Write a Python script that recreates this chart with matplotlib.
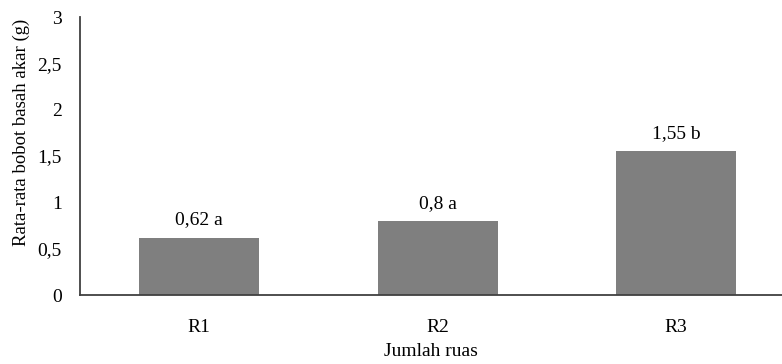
import matplotlib
matplotlib.use("Agg")
import matplotlib.pyplot as plt

categories = ["R1", "R2", "R3"]
values = [0.62, 0.80, 1.55]
labels = ["0,62 a", "0,8 a", "1,55 b"]
yticks = [0, 0.5, 1, 1.5, 2, 2.5, 3]
ytick_labels = ["0", "0,5", "1", "1,5", "2", "2,5", "3"]

plt.rcParams['font.family'] = ['Liberation Serif', 'DejaVu Serif']
fig = plt.figure(figsize=(7.82, 3.64), dpi=100)
ax = fig.add_axes([80/782, (364-295)/364, (782-80)/782, (295-17)/364])

x = range(len(categories))
bars = ax.bar(x, values, width=0.503, color="#7f7f7f")
for xi, v, lab in zip(x, values, labels):
    ax.text(xi, v + 0.1, lab, ha="center", va="bottom", fontsize=14)

ax.set_xlim(-0.5, 2.445)
ax.set_ylim(0, 3)
ax.set_yticks(yticks)
ax.set_yticklabels(ytick_labels)
ax.set_xticks(list(x))
ax.set_xticklabels(categories)
ax.tick_params(axis="both", length=0, labelsize=14)
ax.tick_params(axis="y", pad=13)
ax.tick_params(axis="x", pad=17)
for s in ["top", "right"]:
    ax.spines[s].set_visible(False)
for s in ["left", "bottom"]:
    ax.spines[s].set_color("#404040")
    ax.spines[s].set_linewidth(1.3)
ax.set_ylabel("Rata-rata bobot basah akar (g)", fontsize=13.5)
ax.yaxis.set_label_coords((30 - 80) / 702, (295 - 132) / 278)
ax.set_xlabel("Jumlah ruas", fontsize=14, labelpad=5)

fig.savefig("out.png", dpi=100)
